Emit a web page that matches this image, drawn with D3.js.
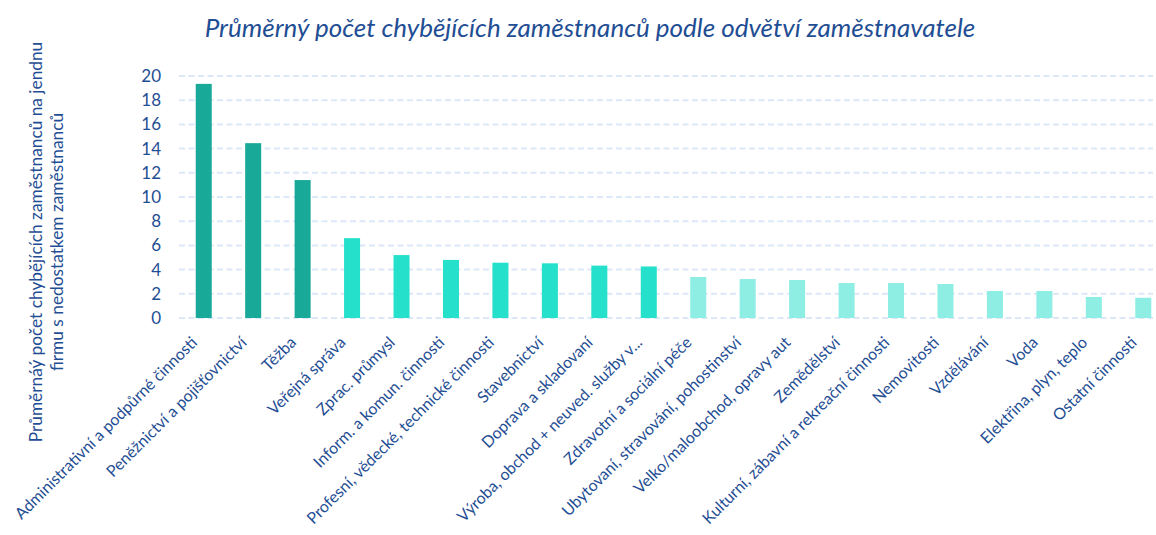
<!DOCTYPE html>
<html>
<head>
<meta charset="utf-8">
<script src="https://cdn.jsdelivr.net/npm/d3@7"></script>
<style>
  body { margin: 0; background: #fff; }
  svg { display: block; font-family: Lato, "Open Sans", sans-serif; }
</style>
</head>
<body>
<svg id="chart"></svg>
<script>
var width = 1156,
    height = 535;

// categories (odvětví)
var categories = [
  "Administrativní a podpůrné činnosti",
  "Peněžnictví a pojišťovnictví",
  "Těžba",
  "Veřejná správa",
  "Zprac. průmysl",
  "Inform. a komun. činnosti",
  "Profesní, vědecké, technické činnosti",
  "Stavebnictví",
  "Doprava a skladovaní",
  "Výroba, obchod + neuved. služby v...",
  "Zdravotní a sociální péče",
  "Ubytovaní, stravování, pohostinství",
  "Velko/maloobchod, opravy aut",
  "Zemědělství",
  "Kulturní, zábavní a rekreační činnosti",
  "Nemovitosti",
  "Vzdělávání",
  "Voda",
  "Elektřina, plyn, teplo",
  "Ostatní činnosti"
];

// average missing employees per firm
var values = [19.35, 14.45, 11.4, 6.6, 5.2, 4.8, 4.57, 4.52, 4.33, 4.26,
              3.39, 3.22, 3.14, 2.89, 2.89, 2.81, 2.23, 2.23, 1.74, 1.67];

// colour group of each bar
var tiers = [0, 0, 0, 1, 1, 1, 1, 1, 1, 1, 2, 2, 2, 2, 2, 2, 2, 2, 2, 2];

var yTicks = [0, 2, 4, 6, 8, 10, 12, 14, 16, 18, 20];

var titleText = "Průměrný počet chybějících zaměstnanců podle odvětví zaměstnavatele";
var yTitleLines = ["Průměrnáý počet chybějících zaměstnanců na jendnu",
                   "firmu s nedostatkem zaměstnanců"];

var textColor = "#1f4e94";
var color = d3.scaleOrdinal()
  .domain([0, 1, 2])
  .range(["#19a999", "#25e0cb", "#8eeee3"]);

var svg = d3.select("#chart")
  .attr("width", width)
  .attr("height", height);

var x = d3.scaleBand()
  .domain(categories)
  .range([179, 1168])
  .paddingInner(0.676)
  .paddingOuter(0.338);

var y = d3.scaleLinear()
  .domain([0, 20])
  .range([318, 76]);

var gridRight = 1153;

// gridlines
svg.append("g")
  .selectAll("line")
  .data(yTicks)
  .enter().append("line")
  .attr("x1", 179)
  .attr("x2", gridRight)
  .attr("y1", function(d) { return y(d); })
  .attr("y2", function(d) { return y(d); })
  .attr("stroke", "#dce7f7")
  .attr("stroke-width", 2)
  .attr("stroke-dasharray", "6,3.5");

// y axis labels
var yAxis = d3.axisLeft(y).tickValues(yTicks).tickSize(0).tickPadding(0);
var ga = svg.append("g")
  .attr("transform", "translate(161,0)")
  .call(yAxis);
ga.select(".domain").remove();
ga.selectAll("text")
  .attr("fill", textColor)
  .style("font-size", "17px")
  .style("font-family", "Lato, sans-serif");

// bars
svg.append("g")
  .selectAll("rect")
  .data(values)
  .enter().append("rect")
  .attr("x", function(d, i) { return x(categories[i]); })
  .attr("width", x.bandwidth())
  .attr("y", function(d) { return y(d); })
  .attr("height", function(d) { return y(0) - y(d); })
  .attr("fill", function(d, i) { return color(tiers[i]); });

// x labels
svg.append("g")
  .selectAll("text")
  .data(categories)
  .enter().append("text")
  .attr("transform", function(d) {
    return "translate(" + (x(d) + x.bandwidth() / 2 - 14) + ",335) rotate(-45)";
  })
  .attr("text-anchor", "end")
  .attr("dy", "0.75em")
  .attr("fill", textColor)
  .style("font-size", "16px")
  .text(function(d) { return d; });

// title
svg.append("text")
  .attr("x", 590)
  .attr("y", 37)
  .attr("text-anchor", "middle")
  .attr("fill", textColor)
  .style("font-size", "26px")
  .style("font-style", "italic")
  .text(titleText);

// y title
svg.append("text")
  .attr("transform", "translate(42,242) rotate(-90)")
  .attr("text-anchor", "middle")
  .attr("fill", textColor)
  .style("font-size", "17.3px")
  .selectAll("tspan")
  .data(yTitleLines)
  .enter().append("tspan")
  .attr("x", 0)
  .attr("dy", function(d, i) { return i === 0 ? 0 : "1.2em"; })
  .text(function(d) { return d; });
</script>
</body>
</html>
